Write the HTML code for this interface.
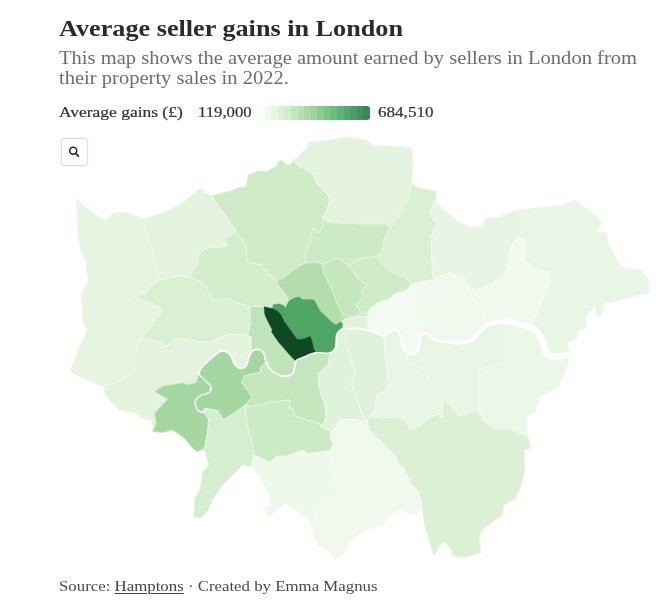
<!DOCTYPE html>
<html><head><meta charset="utf-8"><title>Average seller gains in London</title>
<style>
html,body{margin:0;padding:0;background:#fff;}
body{width:672px;height:607px;position:relative;overflow:hidden;font-family:"Liberation Serif",serif;color:#333;}
.abs{position:absolute;white-space:nowrap;}
#title{left:59px;top:12.7px;font-size:24px;font-weight:bold;color:#2b2b2b;line-height:30px;transform-origin:0 0;transform:scaleX(1.0916);}
#desc{left:59px;top:48.2px;font-size:19px;color:#6d6d6d;line-height:20.2px;transform-origin:0 0;transform:scaleX(1.0814);}
.leg{font-size:15px;color:#333;line-height:18px;top:103px;transform-origin:0 0;-webkit-text-stroke:0.22px #333;}
#leg-title{left:59px;transform:scaleX(1.1632);}
#leg-min{left:197.5px;transform:scaleX(1.1134);}
#leg-max{left:378px;transform:scaleX(1.1381);}
#leg-bar{position:absolute;left:258px;top:106px;width:112px;height:14px;border-radius:0 3px 3px 0;background:linear-gradient(to right, #fbfefa 0.00%, #fbfefa 5.88%, #f2faf0 5.88%, #f2faf0 11.76%, #e9f6e5 11.76%, #e9f6e5 17.65%, #ddf1d8 17.65%, #ddf1d8 23.53%, #d1edcb 23.53%, #d1edcb 29.41%, #c4e8be 29.41%, #c4e8be 35.29%, #b6e1b2 35.29%, #b6e1b2 41.18%, #a9dba7 41.18%, #a9dba7 47.06%, #9bd49c 47.06%, #9bd49c 52.94%, #8bcc92 52.94%, #8bcc92 58.82%, #7bc488 58.82%, #7bc488 64.71%, #6cbc7e 64.71%, #6cbc7e 70.59%, #60b277 70.59%, #60b277 76.47%, #54a86f 76.47%, #54a86f 82.35%, #4a9d68 82.35%, #4a9d68 88.24%, #429260 88.24%, #429260 94.12%, #3a8658 94.12%, #3a8658 100.00%);}
#zoom{position:absolute;left:61.4px;top:138.4px;width:25px;height:25.4px;border:1px solid #ddd;border-radius:3px;background:#fff;box-shadow:0 0 2px rgba(0,0,0,0.08);box-sizing:content-box;}
#foot{left:59px;top:576.5px;font-size:15.5px;color:#4a4a4a;line-height:18px;transform-origin:0 0;transform:scaleX(1.0848);}
#foot u{color:#444;text-decoration-thickness:1px;text-underline-offset:1.5px;}
svg#map{position:absolute;left:0;top:0;filter:blur(0.45px);}
</style></head><body>
<div id="title" class="abs">Average seller gains in London</div>
<div id="desc" class="abs">This map shows the average amount earned by sellers in London from<br>their property sales in 2022.</div>
<div id="leg-title" class="abs leg">Average gains (£)</div>
<div id="leg-min" class="abs leg">119,000</div>
<div id="leg-bar"></div>
<div id="leg-max" class="abs leg">684,510</div>
<svg id="map" width="672" height="607" viewBox="0 0 672 607">
<g><polygon points="76.7,199.2 85.0,206.7 98.3,216.7 105.8,220.0 113.3,212.5 126.7,212.5 138.3,216.7 143.3,219.2 146.0,232.0 150.0,241.7 156.7,266.7 160.0,280.0 146.7,289.2 146.7,293.3 133.3,296.7 160.0,306.7 161.7,311.7 153.3,325.0 141.7,338.3 137.5,345.0 133.3,356.7 135.0,370.0 126.7,376.7 117.5,382.5 103.5,386.5 86.7,380.0 75.0,375.0 70.0,370.8 75.0,358.3 78.3,348.3 83.3,338.3 86.7,330.0 82.5,320.0 83.3,308.3 80.8,300.0 81.7,291.7 89.0,281.0 86.7,273.3 86.7,263.3 81.7,253.3 78.3,240.0 77.5,223.3" fill="#e6f4e1" stroke="#e6f4e1" stroke-width="0.6"/><polygon points="143.3,219.2 160.0,213.8 180.0,205.0 200.0,188.3 203.3,190.8 211.7,195.8 236.7,231.7 225.0,238.3 226.7,246.7 208.3,247.5 197.5,255.0 198.3,261.7 193.3,270.0 190.0,276.7 178.3,275.8 160.0,280.0 156.7,266.7 150.0,241.7 146.0,232.0" fill="#e3f3de" stroke="#e3f3de" stroke-width="0.6"/><polygon points="211.7,195.8 233.3,190.0 238.3,187.5 245.8,186.7 248.3,175.0 258.3,170.8 266.7,171.7 273.3,167.5 277.5,165.8 276.7,162.5 281.7,160.0 286.7,165.0 290.8,164.2 293.3,160.8 300.0,166.5 312.0,172.5 313.3,175.0 316.7,183.3 325.0,191.7 330.0,198.3 326.7,211.7 322.5,217.5 323.8,223.8 320.0,232.5 312.5,228.8 310.0,242.5 306.0,250.0 305.0,263.0 299.3,265.8 291.0,271.7 284.3,277.5 276.0,280.8 261.0,265.0 247.7,261.7 246.7,256.7 246.7,246.7 236.7,231.7" fill="#cfebc8" stroke="#cfebc8" stroke-width="0.6"/><polygon points="293.3,160.8 301.7,153.3 306.7,146.7 309.2,141.7 325.0,140.8 346.7,136.7 366.7,140.0 373.3,145.0 412.7,147.5 412.7,168.3 411.8,183.3 408.5,198.3 402.7,210.0 396.0,220.0 390.0,227.5 385.0,223.8 360.0,223.8 327.5,222.5 322.5,217.5 326.7,211.7 330.0,198.3 325.0,191.7 316.7,183.3 313.3,175.0 312.0,172.5 300.0,166.5" fill="#e3f3de" stroke="#e3f3de" stroke-width="0.6"/><polygon points="411.8,183.3 417.7,187.5 435.2,190.8 436.8,196.7 435.5,201.0 429.3,213.3 436.0,223.3 431.8,235.0 431.2,255.0 433.3,280.0 420.0,281.7 410.8,284.2 406.7,278.3 393.3,273.3 383.3,265.0 377.5,255.8 384.0,247.0 383.8,240.0 390.0,227.5 396.0,220.0 402.7,210.0 408.5,198.3" fill="#d9f0d3" stroke="#d9f0d3" stroke-width="0.6"/><polygon points="435.5,201.0 444.3,210.0 451.0,215.0 459.3,221.7 469.3,226.7 481.0,226.7 486.0,218.3 496.0,217.5 508.0,213.3 519.0,209.5 522.8,227.5 517.8,237.5 511.7,245.0 509.0,257.0 506.7,270.0 500.0,278.3 490.0,285.0 476.7,290.0 470.0,289.2 465.0,278.3 453.3,274.2 450.0,272.5 441.0,276.0 433.3,280.0 431.2,255.0 431.8,235.0 436.0,223.3 429.3,213.3" fill="#e8f5e4" stroke="#e8f5e4" stroke-width="0.6"/><polygon points="519.0,209.5 541.5,207.5 561.5,205.0 575.2,200.0 589.0,210.0 602.8,222.5 596.5,231.2 606.5,232.5 607.8,242.5 621.5,267.5 640.2,270.0 647.8,278.0 650.2,292.5 626.5,298.8 604.0,303.8 602.8,315.0 596.5,316.2 595.2,305.0 589.0,312.5 585.2,318.8 586.5,327.5 577.8,331.2 576.5,338.8 567.8,342.5 570.0,355.0 554.0,356.5 546.7,353.3 543.3,343.3 538.3,333.3 531.0,327.5 551.0,280.0 547.8,272.5 534.0,268.8 525.2,260.0 524.0,240.0 517.8,237.5 522.8,227.5" fill="#e9f6e5" stroke="#e9f6e5" stroke-width="0.6"/><polygon points="470.0,289.2 476.7,290.0 490.0,285.0 500.0,278.3 506.7,270.0 509.0,257.0 511.7,245.0 517.8,237.5 524.0,240.0 525.2,260.0 534.0,268.8 547.8,272.5 551.0,280.0 531.0,327.5 521.5,325.0 505.0,321.5 488.3,324.2 484.5,327.5 485.0,320.0 481.7,310.0 471.7,298.3" fill="#f2faf0" stroke="#f2faf0" stroke-width="0.6"/><polygon points="410.8,284.2 420.0,281.7 433.3,280.0 441.0,276.0 450.0,272.5 453.3,274.2 465.0,278.3 470.0,289.2 471.7,298.3 481.7,310.0 485.0,320.0 484.5,327.5 480.0,331.7 470.0,340.8 455.0,342.5 435.0,340.0 427.5,333.8 420.5,335.0 422.5,322.5 413.8,315.0 415.0,300.0" fill="#f1f9ef" stroke="#f1f9ef" stroke-width="0.6"/><polygon points="368.0,316.7 367.5,313.3 370.0,307.5 380.0,301.7 390.0,298.3 395.0,293.3 406.7,290.0 410.8,284.2 415.0,300.0 413.8,315.0 422.5,322.5 420.5,335.0 420.0,338.0 418.5,350.0 413.3,354.5 408.0,353.0 404.0,350.0 401.5,341.7 398.3,331.7 391.7,330.5 384.0,335.5 375.0,332.5 368.0,330.0 367.5,322.0" fill="#f3faf1" stroke="#f3faf1" stroke-width="0.6"/><polygon points="350.0,266.7 354.2,260.0 377.5,255.8 383.3,265.0 393.3,273.3 406.7,278.3 410.8,284.2 406.7,290.0 395.0,293.3 390.0,298.3 380.0,301.7 370.0,307.5 367.5,313.3 368.0,316.7 355.0,316.7 361.7,313.3 355.8,305.0 361.7,299.2 362.5,290.0 366.7,285.0 357.5,278.3" fill="#cfebc8" stroke="#cfebc8" stroke-width="0.6"/><polygon points="322.5,217.5 327.5,222.5 360.0,223.8 385.0,223.8 390.0,227.5 383.8,240.0 384.0,247.0 377.5,255.8 354.2,260.0 350.0,266.7 338.3,258.3 322.5,264.2 316.0,262.5 305.0,263.0 306.0,250.0 310.0,242.5 312.5,228.8 320.0,232.5 323.8,223.8" fill="#cdeac6" stroke="#cdeac6" stroke-width="0.6"/><polygon points="322.5,264.2 338.3,258.3 350.0,266.7 357.5,278.3 366.7,285.0 362.5,290.0 361.7,299.2 355.8,305.0 361.7,313.3 355.0,316.7 346.0,319.0 343.0,316.0 338.0,306.0 331.5,289.0 323.5,273.0" fill="#c5e7be" stroke="#c5e7be" stroke-width="0.6"/><polygon points="276.0,280.8 284.3,277.5 291.0,271.7 299.3,265.8 305.0,263.0 316.0,262.5 322.5,264.2 323.5,273.0 331.5,289.0 338.0,306.0 343.0,316.0 346.0,319.0 340.5,321.8 336.0,325.0 332.2,322.6 326.0,316.4 319.8,310.8 317.2,305.8 314.1,299.8 302.9,299.5 298.5,296.8 293.5,298.2 288.8,301.2 285.2,294.2 279.3,286.7" fill="#b3deac" stroke="#b3deac" stroke-width="0.6"/><polygon points="340.5,321.8 346.0,319.0 355.0,316.7 368.0,316.7 367.5,322.0 368.0,330.0 355.0,328.5 345.8,328.8 342.0,329.2 342.5,323.5" fill="#e0f2db" stroke="#e0f2db" stroke-width="0.6"/><polygon points="250.0,306.2 264.1,306.8 264.8,314.5 268.5,322.6 272.2,329.5 271.6,332.0 278.5,342.0 282.9,347.0 289.8,355.1 295.8,361.3 293.5,372.5 287.2,376.2 278.5,375.0 269.8,368.8 266.0,362.0 263.5,352.5 258.5,349.4 252.9,350.6 251.0,353.0 251.2,337.5 247.5,335.0 250.0,325.0" fill="#c0e4b9" stroke="#c0e4b9" stroke-width="0.6"/><polygon points="190.0,276.7 193.3,270.0 198.3,261.7 197.5,255.0 208.3,247.5 226.7,246.7 225.0,238.3 236.7,231.7 246.7,246.7 246.7,256.7 247.7,261.7 261.0,265.0 276.0,280.8 279.3,286.7 285.2,294.2 288.8,301.2 285.4,308.0 284.1,305.8 279.8,303.9 273.5,304.5 272.4,308.5 264.1,306.8 250.0,306.2 235.0,302.5 227.5,298.8 211.7,300.0 210.0,293.3 203.3,283.3" fill="#d3edcd" stroke="#d3edcd" stroke-width="0.6"/><polygon points="160.0,280.0 178.3,275.8 190.0,276.7 203.3,283.3 210.0,293.3 211.7,300.0 227.5,298.8 235.0,302.5 250.0,306.2 250.0,325.0 247.5,335.0 230.0,333.8 220.0,337.5 210.0,342.5 177.5,338.8 165.0,346.7 161.7,341.7 141.7,338.3 153.3,325.0 161.7,311.7 160.0,306.7 133.3,296.7 146.7,293.3 146.7,289.2" fill="#d9f0d3" stroke="#d9f0d3" stroke-width="0.6"/><polygon points="141.7,338.3 161.7,341.7 165.0,346.7 177.5,338.8 210.0,342.5 220.0,337.5 230.0,333.8 247.5,335.0 251.2,337.5 251.0,353.0 249.1,356.2 246.6,365.0 241.0,368.5 234.8,364.5 231.0,355.8 224.3,350.8 219.3,351.7 210.2,359.2 201.0,368.3 198.5,374.0 196.0,382.5 186.8,384.2 182.7,382.5 162.7,385.8 154.3,391.7 167.7,399.2 161.0,405.8 154.3,413.3 156.0,423.3 153.2,429.5 151.0,420.0 141.0,418.3 136.0,413.3 119.3,410.0 112.7,403.3 106.0,396.7 103.5,386.5 117.5,382.5 126.7,376.7 135.0,370.0 133.3,356.7 137.5,345.0" fill="#e3f3de" stroke="#e3f3de" stroke-width="0.6"/><polygon points="153.2,429.5 156.0,423.3 154.3,413.3 161.0,405.8 167.7,399.2 154.3,391.7 162.7,385.8 182.7,382.5 186.8,384.2 196.0,382.5 198.5,374.0 203.5,379.0 210.5,385.8 210.2,391.7 198.5,396.7 195.2,401.7 196.8,409.0 202.0,412.5 204.3,413.3 208.5,418.3 207.7,431.7 205.2,445.0 203.8,448.8 197.7,451.7 194.3,450.0 184.3,438.3 172.7,430.0 162.7,432.5 152.7,431.7" fill="#a5d8a0" stroke="#a5d8a0" stroke-width="0.6"/><polygon points="198.5,374.0 201.0,368.3 210.2,359.2 219.3,351.7 224.3,350.8 231.0,355.8 234.8,364.5 241.0,368.5 246.6,365.0 249.1,356.2 251.0,353.0 252.9,350.6 258.5,349.4 263.5,352.5 266.0,362.0 261.0,366.9 259.8,372.5 244.8,375.6 241.6,382.5 247.2,390.0 252.2,396.9 245.5,405.0 236.0,411.7 223.5,420.0 217.7,410.8 205.2,408.3 202.0,412.5 196.8,409.0 195.2,401.7 198.5,396.7 210.2,391.7 210.5,385.8 203.5,379.0" fill="#a5d8a0" stroke="#a5d8a0" stroke-width="0.6"/><polygon points="203.8,448.8 205.2,445.0 207.7,431.7 208.5,418.3 204.3,413.3 202.0,412.5 205.2,408.3 217.7,410.8 223.5,420.0 236.0,411.7 245.5,405.0 246.0,418.3 249.3,433.3 251.2,440.0 253.8,455.0 251.2,466.2 242.5,465.0 235.0,472.5 222.5,485.0 212.5,500.0 207.5,511.2 201.2,517.5 193.8,517.5 195.0,497.5 200.0,490.0 202.5,472.5 208.8,465.0" fill="#d5eecf" stroke="#d5eecf" stroke-width="0.6"/><polygon points="266.0,362.0 269.8,368.8 278.5,375.0 287.2,376.2 293.5,372.5 295.8,361.3 299.8,358.8 306.0,356.2 315.6,352.8 330.0,353.0 328.0,365.0 318.5,373.3 318.5,383.3 320.5,392.5 324.0,402.0 325.8,411.7 325.5,420.0 321.0,426.7 319.3,423.3 309.3,420.8 294.3,415.8 293.5,409.2 290.2,408.3 289.3,400.0 269.3,402.5 251.0,406.7 245.5,405.0 252.2,396.9 247.2,390.0 241.6,382.5 244.8,375.6 259.8,372.5 261.0,366.9" fill="#c5e7be" stroke="#c5e7be" stroke-width="0.6"/><polygon points="245.5,405.0 251.0,406.7 269.3,402.5 289.3,400.0 290.2,408.3 293.5,409.2 294.3,415.8 309.3,420.8 319.3,423.3 321.0,426.7 331.0,431.0 330.0,436.7 333.3,445.0 330.0,450.8 307.5,453.8 302.5,450.0 287.5,456.2 276.2,456.2 270.0,462.5 253.8,455.0 251.2,440.0 249.3,433.3 246.0,418.3" fill="#cdeac6" stroke="#cdeac6" stroke-width="0.6"/><polygon points="330.0,353.0 335.8,347.0 336.8,335.5 339.8,330.8 342.0,329.2 345.8,328.8 345.8,343.3 350.0,358.3 355.0,370.0 351.7,385.0 356.7,398.3 361.0,411.7 366.7,422.5 356.7,419.2 340.0,420.0 333.3,430.8 331.0,431.0 321.0,426.7 325.5,420.0 325.8,411.7 324.0,402.0 320.5,392.5 318.5,383.3 318.5,373.3 328.0,365.0" fill="#dff2da" stroke="#dff2da" stroke-width="0.6"/><polygon points="345.8,328.8 355.0,328.5 368.0,330.0 375.0,332.5 384.0,335.5 385.0,353.3 387.5,373.3 388.5,388.0 377.0,396.0 373.5,411.7 370.0,416.7 366.7,422.5 361.0,411.7 356.7,398.3 351.7,385.0 355.0,370.0 350.0,358.3 345.8,343.3" fill="#e0f2db" stroke="#e0f2db" stroke-width="0.6"/><polygon points="384.0,335.5 391.7,330.5 398.3,331.7 401.5,341.7 404.0,350.0 408.0,353.0 407.5,362.5 427.5,370.0 430.0,385.0 443.5,398.5 442.6,406.0 442.8,418.0 438.3,414.2 428.3,418.3 420.0,426.7 412.5,428.8 408.3,426.7 406.7,421.7 400.0,417.5 383.3,418.3 368.3,416.7 366.7,422.5 370.0,416.7 373.5,411.7 377.0,396.0 388.5,388.0 387.5,373.3 385.0,353.3" fill="#e9f6e5" stroke="#e9f6e5" stroke-width="0.6"/><polygon points="408.0,353.0 413.3,354.5 418.5,350.0 420.0,338.0 420.5,335.0 427.5,333.8 435.0,340.0 455.0,342.5 470.0,340.8 480.0,331.7 484.5,327.5 488.3,324.2 505.0,321.5 505.0,361.7 495.0,365.0 479.2,369.2 479.2,410.0 484.0,420.0 493.3,427.5 484.2,421.7 479.0,413.3 474.5,410.8 466.9,414.5 458.0,415.5 452.0,409.5 447.5,401.5 443.5,398.5 430.0,385.0 427.5,370.0 407.5,362.5" fill="#e9f6e5" stroke="#e9f6e5" stroke-width="0.6"/><polygon points="505.0,321.5 521.5,325.0 531.0,327.5 538.3,333.3 543.3,343.3 546.7,353.3 554.0,356.5 570.0,355.0 569.0,360.0 564.0,375.0 557.8,387.5 539.0,397.5 535.2,412.5 526.7,417.5 526.7,428.0 528.0,437.0 521.7,434.2 510.0,429.2 493.3,427.5 484.0,420.0 479.2,410.0 479.2,369.2 495.0,365.0 505.0,361.7" fill="#ebf7e7" stroke="#ebf7e7" stroke-width="0.6"/><polygon points="366.7,422.5 368.3,416.7 383.3,418.3 400.0,417.5 406.7,421.7 408.3,426.7 412.5,428.8 420.0,426.7 428.3,418.3 438.3,414.2 442.8,418.0 442.6,406.0 443.5,398.5 447.5,401.5 452.0,409.5 458.0,415.5 466.9,414.5 474.5,410.8 479.0,413.3 484.2,421.7 493.3,427.5 510.0,429.2 521.7,434.2 528.0,437.0 530.8,448.3 524.2,450.0 525.0,468.0 521.5,485.0 515.2,499.0 503.8,505.0 502.5,515.0 495.0,520.0 482.5,530.0 478.8,540.0 481.2,552.5 465.0,557.5 452.5,556.2 451.2,550.0 445.0,542.5 440.0,545.0 433.8,556.2 431.2,547.5 425.0,527.5 422.5,510.0 418.8,492.5 410.0,482.5 403.3,466.7 398.3,465.0 395.0,455.0 383.3,443.3 371.7,433.3" fill="#dbf0d5" stroke="#dbf0d5" stroke-width="0.6"/><polygon points="331.0,431.0 333.3,430.8 340.0,420.0 356.7,419.2 366.7,422.5 371.7,433.3 383.3,443.3 395.0,455.0 398.3,465.0 403.3,466.7 410.0,482.5 418.8,492.5 422.5,510.0 413.8,515.0 400.0,510.0 387.5,516.2 383.8,525.0 365.0,530.0 350.0,542.5 343.8,552.5 335.0,560.0 330.0,551.2 317.5,545.0 312.5,533.8 315.0,518.8 320.0,505.0 340.0,497.5 335.8,481.7 332.5,466.7 330.0,450.8 333.3,445.0 330.0,436.7" fill="#f1f9ef" stroke="#f1f9ef" stroke-width="0.6"/><polygon points="253.8,455.0 270.0,462.5 276.2,456.2 287.5,456.2 302.5,450.0 307.5,453.8 330.0,450.8 332.5,466.7 335.8,481.7 340.0,497.5 320.0,505.0 315.0,518.8 312.5,533.8 310.0,522.5 295.0,508.8 285.0,503.8 268.8,516.2 263.8,508.8 270.0,505.0 268.8,492.5 261.2,478.8 251.2,466.2" fill="#eef8eb" stroke="#eef8eb" stroke-width="0.6"/></g>
<g><polygon points="76.7,199.2 85.0,206.7 98.3,216.7 105.8,220.0 113.3,212.5 126.7,212.5 138.3,216.7 143.3,219.2 146.0,232.0 150.0,241.7 156.7,266.7 160.0,280.0 146.7,289.2 146.7,293.3 133.3,296.7 160.0,306.7 161.7,311.7 153.3,325.0 141.7,338.3 137.5,345.0 133.3,356.7 135.0,370.0 126.7,376.7 117.5,382.5 103.5,386.5 86.7,380.0 75.0,375.0 70.0,370.8 75.0,358.3 78.3,348.3 83.3,338.3 86.7,330.0 82.5,320.0 83.3,308.3 80.8,300.0 81.7,291.7 89.0,281.0 86.7,273.3 86.7,263.3 81.7,253.3 78.3,240.0 77.5,223.3" fill="none" stroke="#ffffff" stroke-opacity="0.28" stroke-width="0.7" stroke-linejoin="round"/><polygon points="143.3,219.2 160.0,213.8 180.0,205.0 200.0,188.3 203.3,190.8 211.7,195.8 236.7,231.7 225.0,238.3 226.7,246.7 208.3,247.5 197.5,255.0 198.3,261.7 193.3,270.0 190.0,276.7 178.3,275.8 160.0,280.0 156.7,266.7 150.0,241.7 146.0,232.0" fill="none" stroke="#ffffff" stroke-opacity="0.45" stroke-width="0.7" stroke-linejoin="round"/><polygon points="211.7,195.8 233.3,190.0 238.3,187.5 245.8,186.7 248.3,175.0 258.3,170.8 266.7,171.7 273.3,167.5 277.5,165.8 276.7,162.5 281.7,160.0 286.7,165.0 290.8,164.2 293.3,160.8 300.0,166.5 312.0,172.5 313.3,175.0 316.7,183.3 325.0,191.7 330.0,198.3 326.7,211.7 322.5,217.5 323.8,223.8 320.0,232.5 312.5,228.8 310.0,242.5 306.0,250.0 305.0,263.0 299.3,265.8 291.0,271.7 284.3,277.5 276.0,280.8 261.0,265.0 247.7,261.7 246.7,256.7 246.7,246.7 236.7,231.7" fill="none" stroke="#ffffff" stroke-opacity="0.45" stroke-width="0.7" stroke-linejoin="round"/><polygon points="293.3,160.8 301.7,153.3 306.7,146.7 309.2,141.7 325.0,140.8 346.7,136.7 366.7,140.0 373.3,145.0 412.7,147.5 412.7,168.3 411.8,183.3 408.5,198.3 402.7,210.0 396.0,220.0 390.0,227.5 385.0,223.8 360.0,223.8 327.5,222.5 322.5,217.5 326.7,211.7 330.0,198.3 325.0,191.7 316.7,183.3 313.3,175.0 312.0,172.5 300.0,166.5" fill="none" stroke="#ffffff" stroke-opacity="0.45" stroke-width="0.7" stroke-linejoin="round"/><polygon points="411.8,183.3 417.7,187.5 435.2,190.8 436.8,196.7 435.5,201.0 429.3,213.3 436.0,223.3 431.8,235.0 431.2,255.0 433.3,280.0 420.0,281.7 410.8,284.2 406.7,278.3 393.3,273.3 383.3,265.0 377.5,255.8 384.0,247.0 383.8,240.0 390.0,227.5 396.0,220.0 402.7,210.0 408.5,198.3" fill="none" stroke="#ffffff" stroke-opacity="0.45" stroke-width="0.7" stroke-linejoin="round"/><polygon points="435.5,201.0 444.3,210.0 451.0,215.0 459.3,221.7 469.3,226.7 481.0,226.7 486.0,218.3 496.0,217.5 508.0,213.3 519.0,209.5 522.8,227.5 517.8,237.5 511.7,245.0 509.0,257.0 506.7,270.0 500.0,278.3 490.0,285.0 476.7,290.0 470.0,289.2 465.0,278.3 453.3,274.2 450.0,272.5 441.0,276.0 433.3,280.0 431.2,255.0 431.8,235.0 436.0,223.3 429.3,213.3" fill="none" stroke="#ffffff" stroke-opacity="0.28" stroke-width="0.7" stroke-linejoin="round"/><polygon points="519.0,209.5 541.5,207.5 561.5,205.0 575.2,200.0 589.0,210.0 602.8,222.5 596.5,231.2 606.5,232.5 607.8,242.5 621.5,267.5 640.2,270.0 647.8,278.0 650.2,292.5 626.5,298.8 604.0,303.8 602.8,315.0 596.5,316.2 595.2,305.0 589.0,312.5 585.2,318.8 586.5,327.5 577.8,331.2 576.5,338.8 567.8,342.5 570.0,355.0 554.0,356.5 546.7,353.3 543.3,343.3 538.3,333.3 531.0,327.5 551.0,280.0 547.8,272.5 534.0,268.8 525.2,260.0 524.0,240.0 517.8,237.5 522.8,227.5" fill="none" stroke="#ffffff" stroke-opacity="0.28" stroke-width="0.7" stroke-linejoin="round"/><polygon points="470.0,289.2 476.7,290.0 490.0,285.0 500.0,278.3 506.7,270.0 509.0,257.0 511.7,245.0 517.8,237.5 524.0,240.0 525.2,260.0 534.0,268.8 547.8,272.5 551.0,280.0 531.0,327.5 521.5,325.0 505.0,321.5 488.3,324.2 484.5,327.5 485.0,320.0 481.7,310.0 471.7,298.3" fill="none" stroke="#ffffff" stroke-opacity="0.28" stroke-width="0.7" stroke-linejoin="round"/><polygon points="410.8,284.2 420.0,281.7 433.3,280.0 441.0,276.0 450.0,272.5 453.3,274.2 465.0,278.3 470.0,289.2 471.7,298.3 481.7,310.0 485.0,320.0 484.5,327.5 480.0,331.7 470.0,340.8 455.0,342.5 435.0,340.0 427.5,333.8 420.5,335.0 422.5,322.5 413.8,315.0 415.0,300.0" fill="none" stroke="#ffffff" stroke-opacity="0.28" stroke-width="0.7" stroke-linejoin="round"/><polygon points="368.0,316.7 367.5,313.3 370.0,307.5 380.0,301.7 390.0,298.3 395.0,293.3 406.7,290.0 410.8,284.2 415.0,300.0 413.8,315.0 422.5,322.5 420.5,335.0 420.0,338.0 418.5,350.0 413.3,354.5 408.0,353.0 404.0,350.0 401.5,341.7 398.3,331.7 391.7,330.5 384.0,335.5 375.0,332.5 368.0,330.0 367.5,322.0" fill="none" stroke="#ffffff" stroke-opacity="0.28" stroke-width="0.7" stroke-linejoin="round"/><polygon points="350.0,266.7 354.2,260.0 377.5,255.8 383.3,265.0 393.3,273.3 406.7,278.3 410.8,284.2 406.7,290.0 395.0,293.3 390.0,298.3 380.0,301.7 370.0,307.5 367.5,313.3 368.0,316.7 355.0,316.7 361.7,313.3 355.8,305.0 361.7,299.2 362.5,290.0 366.7,285.0 357.5,278.3" fill="none" stroke="#ffffff" stroke-opacity="0.45" stroke-width="0.7" stroke-linejoin="round"/><polygon points="322.5,217.5 327.5,222.5 360.0,223.8 385.0,223.8 390.0,227.5 383.8,240.0 384.0,247.0 377.5,255.8 354.2,260.0 350.0,266.7 338.3,258.3 322.5,264.2 316.0,262.5 305.0,263.0 306.0,250.0 310.0,242.5 312.5,228.8 320.0,232.5 323.8,223.8" fill="none" stroke="#ffffff" stroke-opacity="0.45" stroke-width="0.7" stroke-linejoin="round"/><polygon points="322.5,264.2 338.3,258.3 350.0,266.7 357.5,278.3 366.7,285.0 362.5,290.0 361.7,299.2 355.8,305.0 361.7,313.3 355.0,316.7 346.0,319.0 343.0,316.0 338.0,306.0 331.5,289.0 323.5,273.0" fill="none" stroke="#ffffff" stroke-opacity="0.45" stroke-width="0.7" stroke-linejoin="round"/><polygon points="276.0,280.8 284.3,277.5 291.0,271.7 299.3,265.8 305.0,263.0 316.0,262.5 322.5,264.2 323.5,273.0 331.5,289.0 338.0,306.0 343.0,316.0 346.0,319.0 340.5,321.8 336.0,325.0 332.2,322.6 326.0,316.4 319.8,310.8 317.2,305.8 314.1,299.8 302.9,299.5 298.5,296.8 293.5,298.2 288.8,301.2 285.2,294.2 279.3,286.7" fill="none" stroke="#ffffff" stroke-opacity="0.45" stroke-width="0.7" stroke-linejoin="round"/><polygon points="340.5,321.8 346.0,319.0 355.0,316.7 368.0,316.7 367.5,322.0 368.0,330.0 355.0,328.5 345.8,328.8 342.0,329.2 342.5,323.5" fill="none" stroke="#ffffff" stroke-opacity="0.45" stroke-width="0.7" stroke-linejoin="round"/><polygon points="250.0,306.2 264.1,306.8 264.8,314.5 268.5,322.6 272.2,329.5 271.6,332.0 278.5,342.0 282.9,347.0 289.8,355.1 295.8,361.3 293.5,372.5 287.2,376.2 278.5,375.0 269.8,368.8 266.0,362.0 263.5,352.5 258.5,349.4 252.9,350.6 251.0,353.0 251.2,337.5 247.5,335.0 250.0,325.0" fill="none" stroke="#ffffff" stroke-opacity="0.45" stroke-width="0.7" stroke-linejoin="round"/><polygon points="190.0,276.7 193.3,270.0 198.3,261.7 197.5,255.0 208.3,247.5 226.7,246.7 225.0,238.3 236.7,231.7 246.7,246.7 246.7,256.7 247.7,261.7 261.0,265.0 276.0,280.8 279.3,286.7 285.2,294.2 288.8,301.2 285.4,308.0 284.1,305.8 279.8,303.9 273.5,304.5 272.4,308.5 264.1,306.8 250.0,306.2 235.0,302.5 227.5,298.8 211.7,300.0 210.0,293.3 203.3,283.3" fill="none" stroke="#ffffff" stroke-opacity="0.45" stroke-width="0.7" stroke-linejoin="round"/><polygon points="160.0,280.0 178.3,275.8 190.0,276.7 203.3,283.3 210.0,293.3 211.7,300.0 227.5,298.8 235.0,302.5 250.0,306.2 250.0,325.0 247.5,335.0 230.0,333.8 220.0,337.5 210.0,342.5 177.5,338.8 165.0,346.7 161.7,341.7 141.7,338.3 153.3,325.0 161.7,311.7 160.0,306.7 133.3,296.7 146.7,293.3 146.7,289.2" fill="none" stroke="#ffffff" stroke-opacity="0.45" stroke-width="0.7" stroke-linejoin="round"/><polygon points="141.7,338.3 161.7,341.7 165.0,346.7 177.5,338.8 210.0,342.5 220.0,337.5 230.0,333.8 247.5,335.0 251.2,337.5 251.0,353.0 249.1,356.2 246.6,365.0 241.0,368.5 234.8,364.5 231.0,355.8 224.3,350.8 219.3,351.7 210.2,359.2 201.0,368.3 198.5,374.0 196.0,382.5 186.8,384.2 182.7,382.5 162.7,385.8 154.3,391.7 167.7,399.2 161.0,405.8 154.3,413.3 156.0,423.3 153.2,429.5 151.0,420.0 141.0,418.3 136.0,413.3 119.3,410.0 112.7,403.3 106.0,396.7 103.5,386.5 117.5,382.5 126.7,376.7 135.0,370.0 133.3,356.7 137.5,345.0" fill="none" stroke="#ffffff" stroke-opacity="0.45" stroke-width="0.7" stroke-linejoin="round"/><polygon points="153.2,429.5 156.0,423.3 154.3,413.3 161.0,405.8 167.7,399.2 154.3,391.7 162.7,385.8 182.7,382.5 186.8,384.2 196.0,382.5 198.5,374.0 203.5,379.0 210.5,385.8 210.2,391.7 198.5,396.7 195.2,401.7 196.8,409.0 202.0,412.5 204.3,413.3 208.5,418.3 207.7,431.7 205.2,445.0 203.8,448.8 197.7,451.7 194.3,450.0 184.3,438.3 172.7,430.0 162.7,432.5 152.7,431.7" fill="none" stroke="#ffffff" stroke-opacity="0.45" stroke-width="0.7" stroke-linejoin="round"/><polygon points="198.5,374.0 201.0,368.3 210.2,359.2 219.3,351.7 224.3,350.8 231.0,355.8 234.8,364.5 241.0,368.5 246.6,365.0 249.1,356.2 251.0,353.0 252.9,350.6 258.5,349.4 263.5,352.5 266.0,362.0 261.0,366.9 259.8,372.5 244.8,375.6 241.6,382.5 247.2,390.0 252.2,396.9 245.5,405.0 236.0,411.7 223.5,420.0 217.7,410.8 205.2,408.3 202.0,412.5 196.8,409.0 195.2,401.7 198.5,396.7 210.2,391.7 210.5,385.8 203.5,379.0" fill="none" stroke="#ffffff" stroke-opacity="0.45" stroke-width="0.7" stroke-linejoin="round"/><polygon points="203.8,448.8 205.2,445.0 207.7,431.7 208.5,418.3 204.3,413.3 202.0,412.5 205.2,408.3 217.7,410.8 223.5,420.0 236.0,411.7 245.5,405.0 246.0,418.3 249.3,433.3 251.2,440.0 253.8,455.0 251.2,466.2 242.5,465.0 235.0,472.5 222.5,485.0 212.5,500.0 207.5,511.2 201.2,517.5 193.8,517.5 195.0,497.5 200.0,490.0 202.5,472.5 208.8,465.0" fill="none" stroke="#ffffff" stroke-opacity="0.45" stroke-width="0.7" stroke-linejoin="round"/><polygon points="266.0,362.0 269.8,368.8 278.5,375.0 287.2,376.2 293.5,372.5 295.8,361.3 299.8,358.8 306.0,356.2 315.6,352.8 330.0,353.0 328.0,365.0 318.5,373.3 318.5,383.3 320.5,392.5 324.0,402.0 325.8,411.7 325.5,420.0 321.0,426.7 319.3,423.3 309.3,420.8 294.3,415.8 293.5,409.2 290.2,408.3 289.3,400.0 269.3,402.5 251.0,406.7 245.5,405.0 252.2,396.9 247.2,390.0 241.6,382.5 244.8,375.6 259.8,372.5 261.0,366.9" fill="none" stroke="#ffffff" stroke-opacity="0.45" stroke-width="0.7" stroke-linejoin="round"/><polygon points="245.5,405.0 251.0,406.7 269.3,402.5 289.3,400.0 290.2,408.3 293.5,409.2 294.3,415.8 309.3,420.8 319.3,423.3 321.0,426.7 331.0,431.0 330.0,436.7 333.3,445.0 330.0,450.8 307.5,453.8 302.5,450.0 287.5,456.2 276.2,456.2 270.0,462.5 253.8,455.0 251.2,440.0 249.3,433.3 246.0,418.3" fill="none" stroke="#ffffff" stroke-opacity="0.45" stroke-width="0.7" stroke-linejoin="round"/><polygon points="330.0,353.0 335.8,347.0 336.8,335.5 339.8,330.8 342.0,329.2 345.8,328.8 345.8,343.3 350.0,358.3 355.0,370.0 351.7,385.0 356.7,398.3 361.0,411.7 366.7,422.5 356.7,419.2 340.0,420.0 333.3,430.8 331.0,431.0 321.0,426.7 325.5,420.0 325.8,411.7 324.0,402.0 320.5,392.5 318.5,383.3 318.5,373.3 328.0,365.0" fill="none" stroke="#ffffff" stroke-opacity="0.45" stroke-width="0.7" stroke-linejoin="round"/><polygon points="345.8,328.8 355.0,328.5 368.0,330.0 375.0,332.5 384.0,335.5 385.0,353.3 387.5,373.3 388.5,388.0 377.0,396.0 373.5,411.7 370.0,416.7 366.7,422.5 361.0,411.7 356.7,398.3 351.7,385.0 355.0,370.0 350.0,358.3 345.8,343.3" fill="none" stroke="#ffffff" stroke-opacity="0.45" stroke-width="0.7" stroke-linejoin="round"/><polygon points="384.0,335.5 391.7,330.5 398.3,331.7 401.5,341.7 404.0,350.0 408.0,353.0 407.5,362.5 427.5,370.0 430.0,385.0 443.5,398.5 442.6,406.0 442.8,418.0 438.3,414.2 428.3,418.3 420.0,426.7 412.5,428.8 408.3,426.7 406.7,421.7 400.0,417.5 383.3,418.3 368.3,416.7 366.7,422.5 370.0,416.7 373.5,411.7 377.0,396.0 388.5,388.0 387.5,373.3 385.0,353.3" fill="none" stroke="#ffffff" stroke-opacity="0.28" stroke-width="0.7" stroke-linejoin="round"/><polygon points="408.0,353.0 413.3,354.5 418.5,350.0 420.0,338.0 420.5,335.0 427.5,333.8 435.0,340.0 455.0,342.5 470.0,340.8 480.0,331.7 484.5,327.5 488.3,324.2 505.0,321.5 505.0,361.7 495.0,365.0 479.2,369.2 479.2,410.0 484.0,420.0 493.3,427.5 484.2,421.7 479.0,413.3 474.5,410.8 466.9,414.5 458.0,415.5 452.0,409.5 447.5,401.5 443.5,398.5 430.0,385.0 427.5,370.0 407.5,362.5" fill="none" stroke="#ffffff" stroke-opacity="0.28" stroke-width="0.7" stroke-linejoin="round"/><polygon points="505.0,321.5 521.5,325.0 531.0,327.5 538.3,333.3 543.3,343.3 546.7,353.3 554.0,356.5 570.0,355.0 569.0,360.0 564.0,375.0 557.8,387.5 539.0,397.5 535.2,412.5 526.7,417.5 526.7,428.0 528.0,437.0 521.7,434.2 510.0,429.2 493.3,427.5 484.0,420.0 479.2,410.0 479.2,369.2 495.0,365.0 505.0,361.7" fill="none" stroke="#ffffff" stroke-opacity="0.28" stroke-width="0.7" stroke-linejoin="round"/><polygon points="366.7,422.5 368.3,416.7 383.3,418.3 400.0,417.5 406.7,421.7 408.3,426.7 412.5,428.8 420.0,426.7 428.3,418.3 438.3,414.2 442.8,418.0 442.6,406.0 443.5,398.5 447.5,401.5 452.0,409.5 458.0,415.5 466.9,414.5 474.5,410.8 479.0,413.3 484.2,421.7 493.3,427.5 510.0,429.2 521.7,434.2 528.0,437.0 530.8,448.3 524.2,450.0 525.0,468.0 521.5,485.0 515.2,499.0 503.8,505.0 502.5,515.0 495.0,520.0 482.5,530.0 478.8,540.0 481.2,552.5 465.0,557.5 452.5,556.2 451.2,550.0 445.0,542.5 440.0,545.0 433.8,556.2 431.2,547.5 425.0,527.5 422.5,510.0 418.8,492.5 410.0,482.5 403.3,466.7 398.3,465.0 395.0,455.0 383.3,443.3 371.7,433.3" fill="none" stroke="#ffffff" stroke-opacity="0.45" stroke-width="0.7" stroke-linejoin="round"/><polygon points="331.0,431.0 333.3,430.8 340.0,420.0 356.7,419.2 366.7,422.5 371.7,433.3 383.3,443.3 395.0,455.0 398.3,465.0 403.3,466.7 410.0,482.5 418.8,492.5 422.5,510.0 413.8,515.0 400.0,510.0 387.5,516.2 383.8,525.0 365.0,530.0 350.0,542.5 343.8,552.5 335.0,560.0 330.0,551.2 317.5,545.0 312.5,533.8 315.0,518.8 320.0,505.0 340.0,497.5 335.8,481.7 332.5,466.7 330.0,450.8 333.3,445.0 330.0,436.7" fill="none" stroke="#ffffff" stroke-opacity="0.28" stroke-width="0.7" stroke-linejoin="round"/><polygon points="253.8,455.0 270.0,462.5 276.2,456.2 287.5,456.2 302.5,450.0 307.5,453.8 330.0,450.8 332.5,466.7 335.8,481.7 340.0,497.5 320.0,505.0 315.0,518.8 312.5,533.8 310.0,522.5 295.0,508.8 285.0,503.8 268.8,516.2 263.8,508.8 270.0,505.0 268.8,492.5 261.2,478.8 251.2,466.2" fill="none" stroke="#ffffff" stroke-opacity="0.28" stroke-width="0.7" stroke-linejoin="round"/></g>
<g><polygon points="288.8,301.2 293.5,298.2 298.5,296.8 302.9,299.5 314.1,299.8 317.2,305.8 319.8,310.8 326.0,316.4 332.2,322.6 336.0,325.0 340.5,321.8 342.5,323.5 342.0,329.2 339.8,330.8 336.8,335.5 335.8,347.0 330.0,353.0 315.6,352.8 313.5,348.2 312.2,342.0 310.4,336.4 303.5,338.9 297.2,339.5 293.5,334.5 289.1,328.2 284.1,321.4 281.0,315.1 277.9,311.4 272.4,308.5 273.5,304.5 279.8,303.9 284.1,305.8 285.4,308.0" fill="#4ea564" stroke="#4ea564" stroke-width="0.5" stroke-linejoin="round"/><polygon points="264.1,306.8 272.4,308.5 277.9,311.4 281.0,315.1 284.1,321.4 289.1,328.2 293.5,334.5 297.2,339.5 303.5,338.9 310.4,336.4 312.2,342.0 313.5,348.2 315.6,352.8 306.0,356.2 299.8,358.8 295.8,361.3 289.8,355.1 282.9,347.0 278.5,342.0 271.6,332.0 272.2,329.5 268.5,322.6 264.8,314.5" fill="#0f4924" stroke="#0f4924" stroke-width="0.5" stroke-linejoin="round"/></g>
<g><path d="M205.5,409.0C204.9,409.6 203.4,412.5 202.0,412.5C200.6,412.5 197.9,410.8 196.8,409.0C195.7,407.2 194.9,403.8 195.2,401.7C195.5,399.6 196.0,398.4 198.5,396.7C201.0,395.0 208.2,393.5 210.2,391.7C212.2,389.9 211.6,387.9 210.5,385.8C209.4,383.7 205.5,381.0 203.5,379.0C201.5,377.0 199.3,374.8 198.5,374.0" fill="none" stroke="#fff" stroke-width="1.3" stroke-linecap="round" stroke-linejoin="round"/><path d="M198.5,374.0C198.9,373.1 199.1,370.8 201.0,368.3C202.9,365.8 207.1,362.0 210.2,359.2C213.2,356.4 217.0,353.1 219.3,351.7C221.7,350.3 222.4,350.1 224.3,350.8C226.2,351.5 229.3,353.5 231.0,355.8C232.7,358.1 233.1,362.4 234.8,364.5C236.4,366.6 239.0,368.4 241.0,368.5C243.0,368.6 245.2,367.0 246.6,365.0C247.9,363.0 248.4,358.2 249.1,356.2C249.8,354.2 250.4,353.9 251.0,353.0C251.6,352.1 251.7,351.2 252.9,350.6C254.2,350.0 256.7,349.1 258.5,349.4C260.3,349.7 262.2,350.4 263.5,352.5C264.8,354.6 265.0,359.3 266.0,362.0C267.0,364.7 267.7,366.6 269.8,368.8C271.8,370.9 275.6,373.8 278.5,375.0C281.4,376.2 284.8,376.7 287.2,376.2C289.8,375.8 292.1,375.0 293.5,372.5C294.9,370.0 294.8,363.6 295.8,361.3C296.8,359.0 298.1,359.6 299.8,358.8C301.4,357.9 303.4,357.2 306.0,356.2C308.6,355.3 311.6,353.3 315.6,352.8C319.6,352.3 326.6,354.0 330.0,353.0" fill="none" stroke="#fff" stroke-width="1.7" stroke-linecap="round" stroke-linejoin="round"/><path d="M330.0,353.0C333.4,352.0 334.7,349.9 335.8,347.0C336.9,344.1 336.1,338.2 336.8,335.5C337.5,332.8 338.9,331.9 339.8,330.8C340.7,329.8 341.0,329.5 342.0,329.2C343.0,328.9 343.6,328.9 345.8,328.8C348.0,328.7 351.3,328.3 355.0,328.5C358.7,328.7 364.7,329.3 368.0,330.0C371.3,330.7 372.3,331.6 375.0,332.5C377.7,333.4 381.2,335.8 384.0,335.5C386.8,335.2 389.3,331.1 391.7,330.5C394.1,329.9 396.7,329.8 398.3,331.7C399.9,333.6 400.6,338.6 401.5,341.7C402.4,344.8 402.9,348.1 404.0,350.0C405.1,351.9 406.4,352.2 408.0,353.0C409.6,353.8 411.6,355.0 413.3,354.5C415.1,354.0 417.4,352.8 418.5,350.0C419.6,347.2 419.7,340.5 420.0,338.0C420.3,335.5 419.2,335.7 420.5,335.0" fill="none" stroke="#fff" stroke-width="2.1" stroke-linecap="round" stroke-linejoin="round"/><path d="M420.5,335.0C421.8,334.3 425.1,332.9 427.5,333.8C429.9,334.6 430.4,338.5 435.0,340.0C439.6,341.5 449.2,342.4 455.0,342.5" fill="none" stroke="#fff" stroke-width="2.8" stroke-linecap="round" stroke-linejoin="round"/><path d="M455.0,342.5C460.8,342.6 465.8,342.6 470.0,340.8C474.2,339.0 477.6,333.9 480.0,331.7C482.4,329.5 483.1,328.8 484.5,327.5" fill="none" stroke="#fff" stroke-width="3.8" stroke-linecap="round" stroke-linejoin="round"/><path d="M484.5,327.5C485.9,326.2 484.9,325.2 488.3,324.2C491.7,323.2 499.5,321.4 505.0,321.5" fill="none" stroke="#fff" stroke-width="4.8" stroke-linecap="round" stroke-linejoin="round"/><path d="M505.0,321.5C510.5,321.6 517.2,324.0 521.5,325.0C525.8,326.0 528.2,326.1 531.0,327.5" fill="none" stroke="#fff" stroke-width="5.6" stroke-linecap="round" stroke-linejoin="round"/><path d="M531.0,327.5C533.8,328.9 536.2,330.7 538.3,333.3C540.3,335.9 541.9,340.0 543.3,343.3C544.7,346.6 544.9,351.1 546.7,353.3C548.5,355.5 550.1,356.2 554.0,356.5C557.9,356.8 566.8,355.2 570.0,355.0C573.2,354.8 572.5,355.4 573.0,355.5" fill="none" stroke="#fff" stroke-width="6.6" stroke-linecap="round" stroke-linejoin="round"/></g>
</svg>
<div id="zoom"><svg width="25" height="25" viewBox="0 0 25 25"><circle cx="11.2" cy="11.8" r="3.5" fill="none" stroke="#222" stroke-width="1.5"/><line x1="13.9" y1="14.5" x2="16.4" y2="17.2" stroke="#222" stroke-width="1.7" stroke-linecap="round"/></svg></div>
<div id="foot" class="abs">Source: <u>Hamptons</u> · Created by Emma Magnus</div>
</body></html>
